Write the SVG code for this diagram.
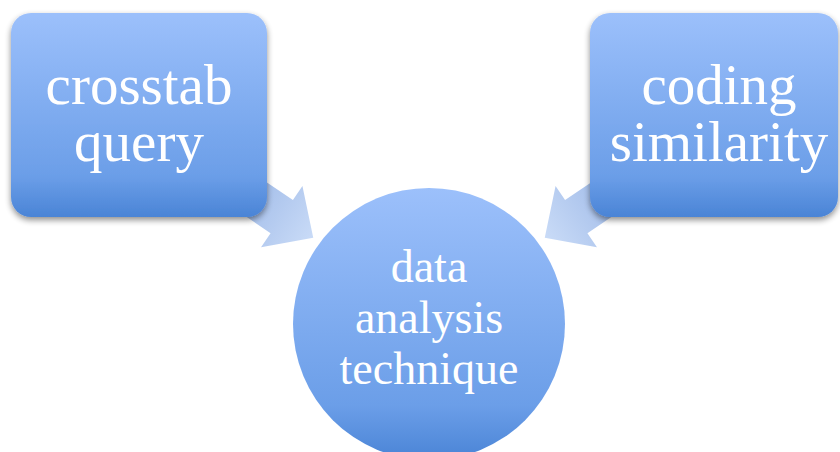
<svg xmlns="http://www.w3.org/2000/svg" width="840" height="452" viewBox="0 0 840 452">
<defs>
<linearGradient id="g" x1="0" y1="0" x2="0" y2="1">
<stop offset="0" stop-color="#9cc0fb"/>
<stop offset="0.8" stop-color="#6b9ee8"/>
<stop offset="1" stop-color="#4a84d6"/>
</linearGradient>
<linearGradient id="ag" x1="0" y1="0" x2="1" y2="0">
<stop offset="0" stop-color="#9ab6e6"/>
<stop offset="1" stop-color="#c9dbf7"/>
</linearGradient>
<filter id="sh" x="-20%" y="-20%" width="140%" height="140%">
<feGaussianBlur in="SourceAlpha" stdDeviation="3"/>
<feOffset dx="0" dy="3"/>
<feComponentTransfer><feFuncA type="linear" slope="0.45"/></feComponentTransfer>
<feMerge><feMergeNode/><feMergeNode in="SourceGraphic"/></feMerge>
</filter>
<style>
.t{font-family:"Liberation Serif","DejaVu Serif",serif;fill:#ffffff;text-anchor:middle}
.b{font-size:57px}
.c{font-size:46px}
</style>
</defs>
<rect width="840" height="452" fill="#ffffff"/>
<g id="connectors">
<path d="M0,-20 L60,-20 L60,-37 L98,0 L60,37 L60,20 L0,20 Z" fill="url(#ag)" transform="translate(232,183) rotate(34)"/>
<path d="M0,-20 L60,-20 L60,-37 L98,0 L60,37 L60,20 L0,20 Z" fill="url(#ag)" transform="translate(626,183) rotate(146)"/>
</g>
<g id="crosstab">
<rect x="11" y="13" width="256" height="204" rx="20" fill="url(#g)" filter="url(#sh)"/>
<text class="t b" x="139" y="104">crosstab</text>
<text class="t b" x="139" y="161">query</text>
</g>
<g id="coding">
<rect x="590" y="13" width="248" height="204" rx="20" fill="url(#g)" filter="url(#sh)"/>
<text class="t b" x="719" y="104">coding</text>
<text class="t b" x="719" y="161">similarity</text>
</g>
<g id="technique">
<circle cx="429" cy="324" r="136" fill="url(#g)"/>
<text class="t c" x="429" y="282">data</text>
<text class="t c" x="429" y="333">analysis</text>
<text class="t c" x="429" y="384">technique</text>
</g>
</svg>
